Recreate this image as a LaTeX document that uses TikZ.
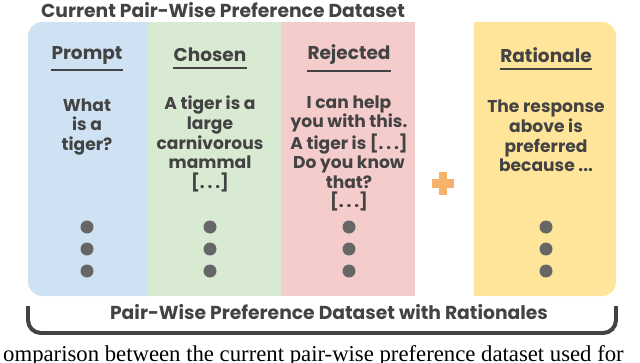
\documentclass[tikz,border=0pt]{standalone}
\usepackage{fontspec}
\setmainfont{Poppins}
\newfontfamily\captionfont{Liberation Serif}
\usepackage{xcolor}
\usetikzlibrary{positioning}
\definecolor{promptblue}{HTML}{CFE2F3}
\definecolor{chosengreen}{HTML}{D9EAD3}
\definecolor{rejectedred}{HTML}{F4CCCC}
\definecolor{rationaleyellow}{HTML}{FFE599}
\definecolor{plusorange}{HTML}{F6B26B}
\definecolor{inkgray}{HTML}{434343}
\definecolor{dotgray}{HTML}{666666}

\begin{document}
\begin{tikzpicture}[x=0.03cm,y=-0.03cm,
  every node/.style={text=inkgray,font=\bfseries\fontsize{16}{18}\selectfont},
  head/.style={font=\bfseries\fontsize{15.8}{18}\selectfont},
  body/.style={align=center,font=\bfseries\fontsize{14.6}{16.7}\selectfont},
  headrule/.style={inkgray,line width=1.8pt}]
  \useasboundingbox (0,0) rectangle (640,363);
  \clip (0,0) rectangle (640,363);
  % columns
  \fill[promptblue,rounded corners=12] (28,22) rectangle (160,296);
  \fill[chosengreen] (148,22) rectangle (281,296);
  \fill[rejectedred] (281,22) rectangle (415,296);
  \fill[rationaleyellow,rounded corners=12] (474,22) rectangle (616,296);
  \fill[rationaleyellow] (474,22) rectangle (500,296);
  % title
  \node (title) at (223,10) {Current Pair-Wise Preference Dataset};
  % headers
  \node[head] (prompt) at (87,55) {Prompt};
  \node[head] (chosen) at (210,55) {Chosen};
  \node[head] (rejected) at (349,55) {Rejected};
  \node[head] (rationale) at (546,55) {Rationale};
  \foreach \col in {prompt,chosen,rejected,rationale}
    \draw[headrule] ([xshift=3pt,yshift=-2pt]\col.south west) -- ([xshift=-3pt,yshift=-2pt]\col.south east);
  % texts
  \node[body] (prompttext) at (87,127) {What\\is a\\tiger?};
  \node[body] (chosentext) at (210,144) {A tiger is a\\large\\carnivorous\\mammal\\{[}.\,.\,.{]}};
  \node[body] (rejectedtext) at (349,153.5) {I can help\\you with this.\\A tiger is {[}.\,.\,.{]}\\Do you know\\that?\\{[}.\,.\,.{]}};
  \node[body] (rationaletext) at (546,136) {The response\\above is\\preferred\\because ...};
  % dots
  \foreach \x in {87,210,349,546}
    \foreach \y in {227,249,271}
      \fill[dotgray] (\x,\y) circle (6.5);
  % plus
  \draw[plusorange,line width=7pt] (432,183.5) -- (454,183.5);
  \draw[plusorange,line width=7pt] (443,172) -- (443,195);
  % brace
  \draw[inkgray,line width=3.4pt,rounded corners=11] (28,306) -- (28,333) -- (616,333) -- (616,306);
  \node (bracelabel) at (329,312) {Pair-Wise Preference Dataset with Rationales};
  % caption
  \node[anchor=base west,inner sep=0pt,font=\captionfont\fontsize{19.4}{22}\selectfont,text=black] (caption) at (3,361) {omparison between the current pair-wise preference dataset used for};
\end{tikzpicture}
\end{document}
